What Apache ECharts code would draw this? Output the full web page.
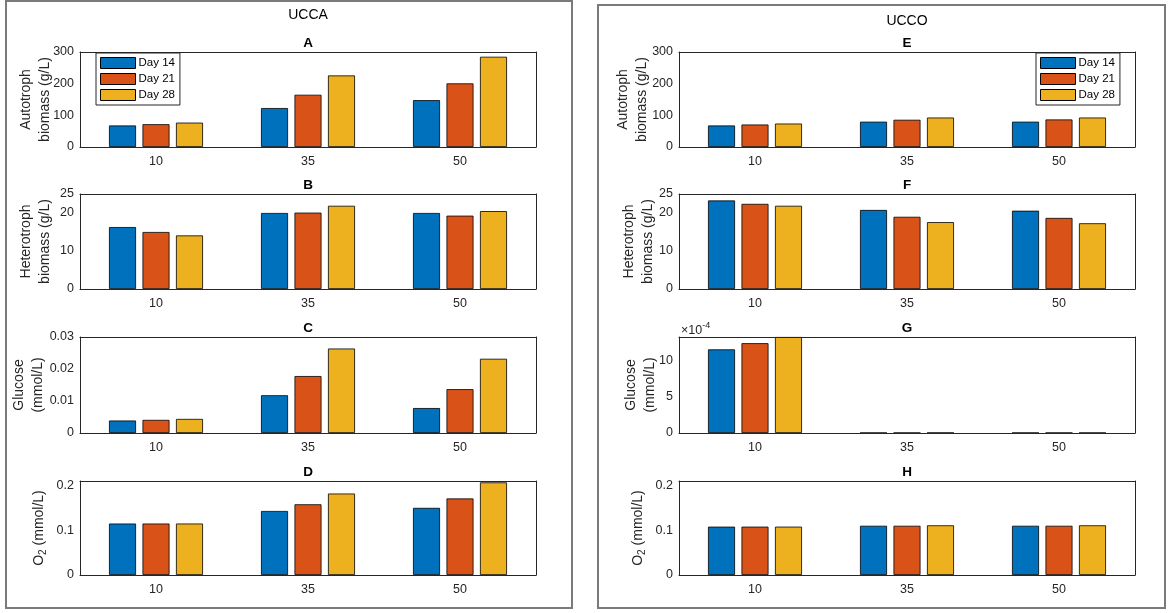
<!DOCTYPE html>
<html>
<head>
<meta charset="utf-8">
<title>UCCA / UCCO</title>
<script src="https://cdn.jsdelivr.net/npm/echarts@6/dist/echarts.min.js"></script>
<style>
	html, body { margin: 0; padding: 0; background: #fff; }
	#myCharts { width: 1170px; height: 613px; }
</style>
</head>
<body>
<div id="myCharts"></div>
<script>
	// categories and legend names
	const categories = ['10', '35', '50'];
	const days = ['Day 14', 'Day 21', 'Day 28'];

	// UCCA (left column)
	const uccaAuto14 = [68, 123, 148];
	const uccaAuto21 = [72, 165, 201];
	const uccaAuto28 = [77, 226, 285];
	const uccaHetero14 = [16.3, 20.0, 20.0];
	const uccaHetero21 = [15.0, 20.1, 19.3];
	const uccaHetero28 = [14.1, 21.9, 20.5];
	const uccaGlucose14 = [0.0039, 0.0118, 0.0078];
	const uccaGlucose21 = [0.0041, 0.0178, 0.0137];
	const uccaGlucose28 = [0.0044, 0.0264, 0.0232];
	const uccaO2_14 = [0.115, 0.143, 0.150];
	const uccaO2_21 = [0.115, 0.158, 0.171];
	const uccaO2_28 = [0.115, 0.182, 0.207];

	// UCCO (right column)
	const uccoAuto14 = [68, 80, 80];
	const uccoAuto21 = [71, 86, 87];
	const uccoAuto28 = [74, 93, 93];
	const uccoHetero14 = [23.3, 20.8, 20.6];
	const uccoHetero21 = [22.4, 19.0, 18.7];
	const uccoHetero28 = [21.9, 17.6, 17.3];
	const uccoGlucose14 = [0.00115, 0.000002, 0.000002];
	const uccoGlucose21 = [0.001235, 0.000002, 0.000002];
	const uccoGlucose28 = [0.00132, 0.000003, 0.000002];
	const uccoO2_14 = [0.108, 0.110, 0.110];
	const uccoO2_21 = [0.108, 0.110, 0.110];
	const uccoO2_28 = [0.108, 0.111, 0.111];

	const colors = ['#0072BD', '#D95319', '#EDB120'];
	const axisColor = '#262626';
	const font = "'Liberation Sans', Arial, Helvetica, sans-serif";

	const panels = [
		{ letter: 'A', left: 80, top: 52, height: 95, values: [uccaAuto14, uccaAuto21, uccaAuto28], name: 'Autotroph\nbiomass (g/L)', max: 300, interval: 100, gap: 25.5 },
		{ letter: 'B', left: 80, top: 194, height: 95, values: [uccaHetero14, uccaHetero21, uccaHetero28], name: 'Heterotroph\nbiomass (g/L)', max: 25, interval: 10, gap: 25.5 },
		{ letter: 'C', left: 80, top: 337, height: 96, values: [uccaGlucose14, uccaGlucose21, uccaGlucose28], name: 'Glucose\n(mmol/L)', max: 0.03, interval: 0.01, gap: 32.5 },
		{ letter: 'D', left: 80, top: 481, height: 94, values: [uccaO2_14, uccaO2_21, uccaO2_28], name: 'o2', max: 0.21, interval: 0.1, gap: 31.5, hideMax: true },
		{ letter: 'E', left: 679, top: 52, height: 95, values: [uccoAuto14, uccoAuto21, uccoAuto28], name: 'Autotroph\nbiomass (g/L)', max: 300, interval: 100, gap: 27.8 },
		{ letter: 'F', left: 679, top: 194, height: 95, values: [uccoHetero14, uccoHetero21, uccoHetero28], name: 'Heterotroph\nbiomass (g/L)', max: 25, interval: 10, gap: 21.5 },
		{ letter: 'G', left: 679, top: 337, height: 96, values: [uccoGlucose14, uccoGlucose21, uccoGlucose28], name: 'Glucose\n(mmol/L)', max: 0.00132, interval: 0.0005, gap: 19.5, hideMax: true, scale1e4: true },
		{ letter: 'H', left: 679, top: 481, height: 94, values: [uccoO2_14, uccoO2_21, uccoO2_28], name: 'o2', max: 0.21, interval: 0.1, gap: 31.5, hideMax: true }
	];

	let grid = [], xAxis = [], yAxis = [], series = [];
	let graphic = [
		// outer boxes of the two figures
		{ type: 'rect', shape: { x: 6, y: 1, width: 566, height: 607 }, style: { fill: 'none', stroke: '#7a7a7a', lineWidth: 2 } },
		{ type: 'rect', shape: { x: 598, y: 5, width: 567, height: 603 }, style: { fill: 'none', stroke: '#7a7a7a', lineWidth: 2 } },
		{ type: 'text', x: 308, y: 15, style: { text: 'UCCA', font: '14px ' + font, fill: '#000', textAlign: 'center', textVerticalAlign: 'middle' } },
		{ type: 'text', x: 907, y: 21, style: { text: 'UCCO', font: '14px ' + font, fill: '#000', textAlign: 'center', textVerticalAlign: 'middle' } },
		{ type: 'text', x: 681, y: 329, style: { text: '{a|×10}{b|-4}', textVerticalAlign: 'middle', rich: {
			a: { fontSize: 12.5, fontFamily: font, fill: axisColor, lineHeight: 16, verticalAlign: 'bottom' },
			b: { fontSize: 9, fontFamily: font, fill: axisColor, lineHeight: 10, verticalAlign: 'top' }
		} } }
	];

	panels.forEach(function (p, i) {
		grid.push({ left: p.left, top: p.top, width: 456, height: p.height, containLabel: false, outerBoundsMode: 'none' });
		graphic.push({ type: 'text', x: p.left + 228, y: p.top - 9, style: { text: p.letter, font: 'bold 13.5px ' + font, fill: '#000', textAlign: 'center', textVerticalAlign: 'middle' } });

		let tick = { inside: true, alignWithLabel: true, length: 4.5, lineStyle: { color: axisColor, width: 1 } };
		let line = { show: true, onZero: false, lineStyle: { color: axisColor, width: 1 } };

		xAxis.push({
			type: 'category', gridIndex: i, data: categories, position: 'bottom', z: 3,
			axisLine: line, axisTick: tick,
			axisLabel: { color: axisColor, fontSize: 12.5, fontFamily: font, margin: 8 }
		});
		xAxis.push({
			type: 'category', gridIndex: i, data: categories, position: 'top', z: 3,
			axisLine: line, axisTick: tick, axisLabel: { show: false }
		});

		let nameText = p.name === 'o2' ? '{n|O}{s|2}{n| (mmol/L)}' : p.name;
		let label = { color: axisColor, fontSize: 12.5, fontFamily: font, margin: 6, showMaxLabel: !p.hideMax };
		if (p.scale1e4) {
			label.formatter = function (v) { return String(Math.round(v * 1e4)); };
		}
		yAxis.push({
			type: 'value', gridIndex: i, position: 'left', min: 0, max: p.max, interval: p.interval, z: 3,
			axisLine: line, axisTick: { inside: true, length: 4.5, lineStyle: { color: axisColor, width: 1 } },
			splitLine: { show: false }, axisLabel: label,
			name: nameText, nameLocation: 'middle', nameRotate: 90, nameGap: p.gap, nameMoveOverlap: false,
			nameTextStyle: {
				color: axisColor, fontSize: 14, fontFamily: font, lineHeight: 19, align: 'center',
				rich: {
					n: { fontSize: 14, fontFamily: font, color: axisColor, lineHeight: 19, verticalAlign: 'middle' },
					s: { fontSize: 10, fontFamily: font, color: axisColor, lineHeight: 10, verticalAlign: 'bottom' }
				}
			}
		});
		yAxis.push({
			type: 'value', gridIndex: i, position: 'right', min: 0, max: p.max, interval: p.interval, z: 3,
			axisLine: line, axisTick: { inside: true, length: 4.5, lineStyle: { color: axisColor, width: 1 } },
			splitLine: { show: false }, axisLabel: { show: false }
		});

		days.forEach(function (d, k) {
			series.push({
				name: d, type: 'bar', xAxisIndex: 2 * i, yAxisIndex: 2 * i,
				data: p.values[k], barWidth: 27, barGap: '24%',
				itemStyle: { color: colors[k], borderColor: '#000', borderWidth: 0.8 },
				emphasis: { disabled: true }
			});
		});
	});

	let legendBase = {
		orient: 'vertical', top: 53, data: days, icon: 'rect',
		itemWidth: 35, itemHeight: 11, itemGap: 4, padding: [4, 5, 4, 4],
		borderColor: axisColor, borderWidth: 1, backgroundColor: '#fff',
		itemStyle: { borderColor: '#000', borderWidth: 1 },
		textStyle: { color: '#000', fontSize: 11.5, fontFamily: font, lineHeight: 11, padding: [0, 0, 0, -2] }
	};

	let option = {
		animation: false,
		backgroundColor: '#fff',
		grid: grid,
		xAxis: xAxis,
		yAxis: yAxis,
		legend: [
			Object.assign({}, legendBase, { left: 96 }),
			Object.assign({}, legendBase, { left: 1036 })
		],
		graphic: graphic,
		series: series
	};

	let mychart = echarts.init(document.getElementById('myCharts'));
	mychart.setOption(option);
	window.onresize = mychart.resize;
</script>
</body>
</html>
